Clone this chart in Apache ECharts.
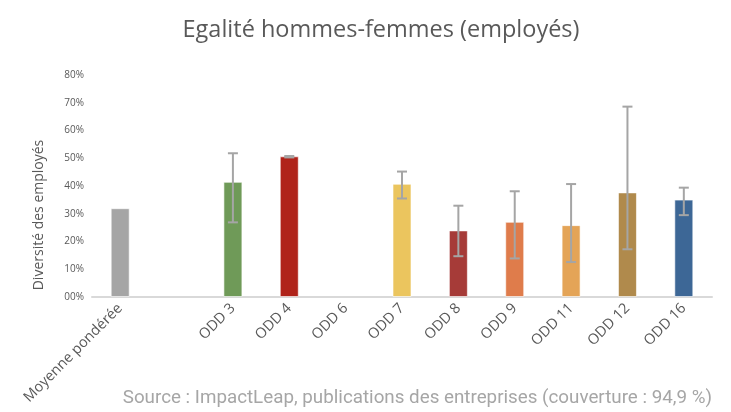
<!DOCTYPE html>
<html><head><meta charset="utf-8">
<script src="https://cdn.jsdelivr.net/npm/echarts@6/dist/echarts.min.js"></script>
<style>html,body{margin:0;padding:0;background:#fff}#c{width:731px;height:412px}</style>
</head><body><div id="c"></div>
<script>
const categories = ['Moyenne pondérée', '', 'ODD 3', 'ODD 4', 'ODD 6', 'ODD 7', 'ODD 8', 'ODD 9', 'ODD 11', 'ODD 12', 'ODD 16'];
const values = [32, null, 41.5, 50.7, null, 40.8, 24.0, 27.1, 25.9, 37.7, 35.1];
const errLow = [null, null, 26.9, 50.3, null, 35.5, 14.7, 13.9, 12.6, 17.2, 29.5];
const errHigh = [null, null, 51.8, 50.8, null, 45.2, 32.9, 38.1, 40.7, 68.6, 39.4];
const colors = ['#a5a5a5', '#a5a5a5', '#6f9a58', '#b0231a', '#a5a5a5', '#ebc55e', '#a63b38', '#df7c4b', '#e4a457', '#b08a4c', '#3d6796'];
const yTicks = ['00%', '10%', '20%', '30%', '40%', '50%', '60%', '70%', '80%'];

const chart = echarts.init(document.getElementById('c'));
const errData = categories.map((c, i) => [i, errLow[i], errHigh[i]]).filter(d => d[1] != null);
chart.setOption({
  animation: false,
  backgroundColor: '#ffffff',
  title: [{
    text: 'Egalité hommes-femmes (employés)',
    left: 376, top: 13, textAlign: 'center',
    textStyle: {fontFamily: 'Open Sans', fontSize: 23.5, fontWeight: 'normal', color: '#595959'}
  }, {
    text: 'Source : ImpactLeap, publications des entreprises (couverture : 94,9 %)',
    right: 14, top: 384,
    textStyle: {fontFamily: 'Roboto', fontSize: 18.8, fontWeight: 'normal', color: '#a6a6a6'}
  }],
  graphic: [{
    type: 'text', x: 39, y: 215, rotation: Math.PI / 2,
    style: {text: 'Diversité des employés', fontFamily: 'Open Sans', fontSize: 14, fill: '#595959',
      textAlign: 'center', textVerticalAlign: 'middle'}
  }],
  grid: {left: 92, right: 19, top: 75, bottom: 115},
  xAxis: {
    type: 'category', data: categories,
    axisLine: {lineStyle: {color: '#d9d9d9', width: 2}},
    axisTick: {show: false},
    axisLabel: {interval: 0, rotate: 45, color: '#595959', fontFamily: 'Open Sans', fontSize: 14.5, margin: 9}
  },
  yAxis: {
    type: 'value', min: 0, max: 80, interval: 10,
    splitLine: {show: false}, axisLine: {show: false}, axisTick: {show: false},
    axisLabel: {color: '#595959', fontFamily: 'Open Sans', fontSize: 10, margin: 8,
      formatter: v => yTicks[Math.round(v / 10)]}
  },
  series: [{
    type: 'bar', barWidth: 19,
    data: values.map((v, i) => ({value: v, itemStyle: {color: colors[i], borderColor: 'rgba(255,255,255,0.6)', borderWidth: 1}}))
  }, {
    type: 'custom', data: errData, z: 10,
    renderItem: function (params, api) {
      const x = api.value(0);
      const lo = api.coord([x, api.value(1)]);
      const hi = api.coord([x, api.value(2)]);
      const hw = 5;
      const st = {stroke: '#a5a5a5', lineWidth: 2};
      return {type: 'group', children: [
        {type: 'line', shape: {x1: lo[0], y1: lo[1], x2: hi[0], y2: hi[1]}, style: st},
        {type: 'line', shape: {x1: lo[0] - hw, y1: lo[1], x2: lo[0] + hw, y2: lo[1]}, style: st},
        {type: 'line', shape: {x1: hi[0] - hw, y1: hi[1], x2: hi[0] + hw, y2: hi[1]}, style: st}
      ]};
    }
  }]
});
</script></body></html>
